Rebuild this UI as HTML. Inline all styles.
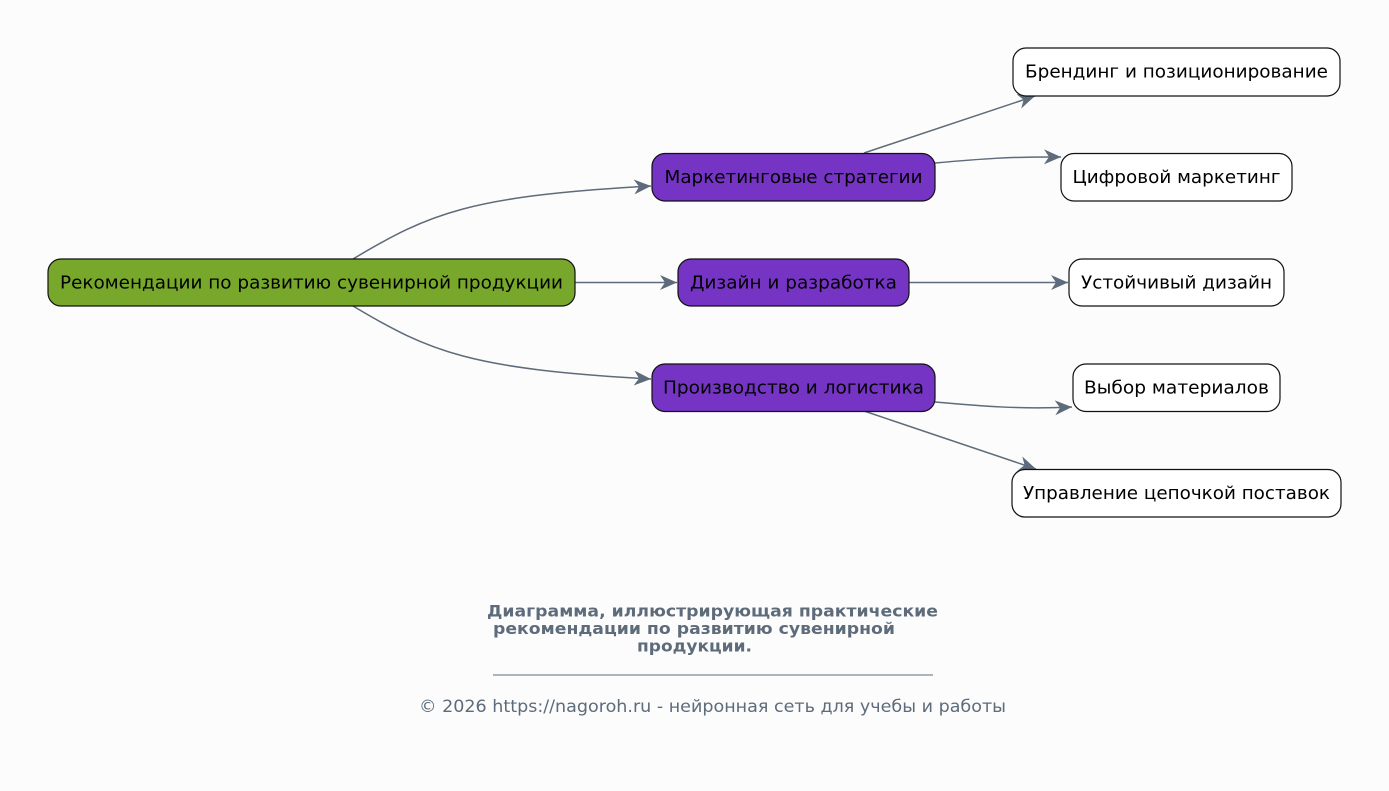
<!DOCTYPE html>
<html>
<head>
<meta charset="utf-8">
<style>
html,body{margin:0;padding:0;background:#fcfcfc;}
svg{display:block;}
text{font-family:"DejaVu Sans","Liberation Sans","Noto Sans CJK SC",sans-serif;}
</style>
</head>
<body>
<svg width="1389" height="791" viewBox="0 0 1389 791" xmlns="http://www.w3.org/2000/svg">
<defs>
<marker id="ah" markerWidth="20" markerHeight="20" viewBox="-19 -10 20 20" refX="0" refY="0" orient="auto" markerUnits="userSpaceOnUse">
<path d="M0,0 L-17,-7.5 L-12,0 L-17,7.5 Z" fill="#5d6b7a"/>
</marker>
</defs>
<rect width="1389" height="791" fill="#fcfcfc"/>

<g fill="none" stroke="#5d6b7a" stroke-width="1.5" marker-end="url(#ah)">
<path d="M353,259 C430,213 470,196 651,186"/>
<path d="M575,282.5 L677,282.5"/>
<path d="M353,306 C430,352 470,369 651,379"/>
<path d="M864,153 L1035,96"/>
<path d="M935,163 C980,159 1010,156.5 1061,157"/>
<path d="M909,282.5 L1068,282.5"/>
<path d="M935,402 C980,406 1020,409.5 1072,407"/>
<path d="M864,411 L1036,469"/>
</g>

<g stroke="#111" stroke-width="1.2">
<rect x="48" y="259" width="527" height="47" rx="13" fill="#78a82b"/>
<rect x="652" y="153.5" width="283" height="47.5" rx="13" fill="#7634c4"/>
<rect x="678" y="259" width="231" height="47" rx="13" fill="#7634c4"/>
<rect x="652" y="364" width="283" height="47.5" rx="13" fill="#7634c4"/>
<rect x="1013" y="48" width="327" height="48" rx="13" fill="#ffffff"/>
<rect x="1061" y="153.5" width="231" height="47.5" rx="13" fill="#ffffff"/>
<rect x="1069" y="259" width="215" height="47" rx="13" fill="#ffffff"/>
<rect x="1073" y="364" width="207" height="47.5" rx="13" fill="#ffffff"/>
<rect x="1012" y="469.5" width="329" height="47.5" rx="13" fill="#ffffff"/>
</g>

<g font-size="17.5" fill="#000" text-anchor="middle">
<text x="311.5" y="288.5" textLength="503" lengthAdjust="spacingAndGlyphs">Рекомендации по развитию сувенирной продукции</text>
<text x="793.5" y="183" textLength="258" lengthAdjust="spacingAndGlyphs">Маркетинговые стратегии</text>
<text x="793.5" y="288.5" textLength="207" lengthAdjust="spacingAndGlyphs">Дизайн и разработка</text>
<text x="793.5" y="393.5" textLength="261" lengthAdjust="spacingAndGlyphs">Производство и логистика</text>
<text x="1176.5" y="77.5" textLength="303" lengthAdjust="spacingAndGlyphs">Брендинг и позиционирование</text>
<text x="1176.5" y="183" textLength="208" lengthAdjust="spacingAndGlyphs">Цифровой маркетинг</text>
<text x="1176.5" y="288.5" textLength="191" lengthAdjust="spacingAndGlyphs">Устойчивый дизайн</text>
<text x="1176.5" y="393.5" textLength="185" lengthAdjust="spacingAndGlyphs">Выбор материалов</text>
<text x="1176.5" y="499" textLength="307" lengthAdjust="spacingAndGlyphs">Управление цепочкой поставок</text>
</g>

<g font-size="16" font-weight="bold" fill="#5d6b7a">
<text x="487" y="616.5" textLength="451" lengthAdjust="spacingAndGlyphs">Диаграмма, иллюстрирующая практические</text>
<text x="493" y="634" textLength="402" lengthAdjust="spacingAndGlyphs">рекомендации по развитию сувенирной</text>
<text x="637" y="651.5" textLength="115" lengthAdjust="spacingAndGlyphs">продукции.</text>
</g>
<line x1="493" y1="675" x2="933" y2="675" stroke="#5d6b7a" stroke-width="1"/>
<text x="419" y="712" font-size="16.5" fill="#5d6b7a" textLength="587" lengthAdjust="spacingAndGlyphs">© 2026 https://nagoroh.ru - нейронная сеть для учебы и работы</text>
</svg>
</body>
</html>
